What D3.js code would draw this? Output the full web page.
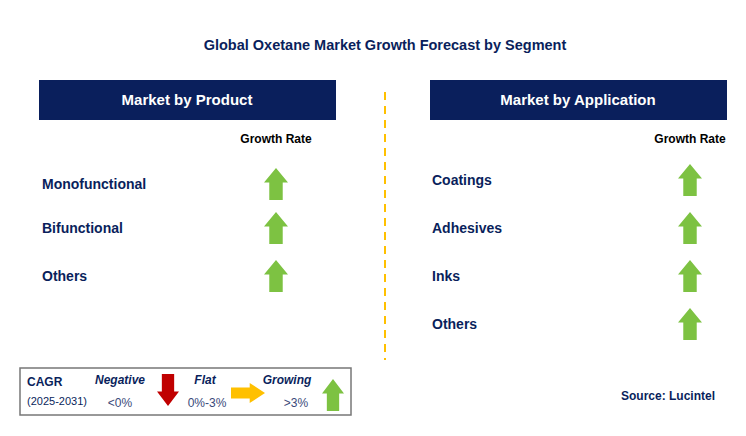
<!DOCTYPE html>
<html><head><meta charset="utf-8">
<script src="https://cdn.jsdelivr.net/npm/d3@7"></script>
<style>body{margin:0;background:#fff}text{font-family:Arial,"Liberation Sans",sans-serif}</style>
</head><body><svg id="c" width="746" height="436"></svg>
<script>
var productSegments = ['Monofunctional', 'Bifunctional', 'Others'];
var productTrend = ['growing', 'growing', 'growing'];
var applicationSegments = ['Coatings', 'Adhesives', 'Inks', 'Others'];
var applicationTrend = ['growing', 'growing', 'growing', 'growing'];

var svg = d3.select('#c');
var navy = '#0a1f5c', green = '#7dc242', red = '#c00000', amber = '#ffc000';

svg.append('text').attr('x', 385).attr('y', 50).attr('text-anchor', 'middle')
  .attr('font-size', 14.5).attr('font-weight', 'bold').attr('fill', navy)
  .text('Global Oxetane Market Growth Forecast by Segment');

// row positions from a point scale
var y = d3.scalePoint().domain(d3.range(4)).range([180, 324]);

// arrow path centred on (0,0), pointing up
function upArrow(w, h) {
  var s = w * 0.28, hh = h * 0.45;
  return 'M0,' + (-h/2) + 'L' + (w/2) + ',' + (-h/2 + hh) + 'L' + s + ',' + (-h/2 + hh) +
    'L' + s + ',' + (h/2) + 'L' + (-s) + ',' + (h/2) + 'L' + (-s) + ',' + (-h/2 + hh) +
    'L' + (-w/2) + ',' + (-h/2 + hh) + 'Z';
}

function panel(x0, title, labelX, arrowX, names, trend, yoff) {
  svg.append('rect').attr('x', x0).attr('y', 80).attr('width', 297).attr('height', 40).attr('fill', navy);
  svg.append('text').attr('x', x0 + 148).attr('y', 105).attr('text-anchor', 'middle')
    .attr('fill', '#fff').attr('font-size', 15).attr('font-weight', 'bold').text(title);
  svg.append('text').attr('x', arrowX).attr('y', 143).attr('text-anchor', 'middle')
    .attr('font-size', 12).attr('font-weight', 'bold').attr('fill', '#000').text('Growth Rate');
  var g = svg.append('g').selectAll('g').data(names).join('g')
    .attr('transform', function(d, i) { return 'translate(0,' + (y(i) + (i === 0 ? yoff : 0)) + ')'; });
  g.append('text').attr('x', labelX).attr('y', 5).attr('font-size', 14).attr('font-weight', 'bold')
    .attr('fill', navy).text(function(d) { return d; });
  g.append('path').attr('transform', 'translate(' + arrowX + ',0)')
    .attr('d', upArrow(24, 32)).attr('fill', function(d, i) { return trend[i] === 'growing' ? green : red; });
}
panel(39, 'Market by Product', 42, 276, productSegments, productTrend, 4);
panel(430, 'Market by Application', 432, 690, applicationSegments, applicationTrend, 0);

svg.append('line').attr('x1', 385).attr('x2', 385).attr('y1', 92).attr('y2', 360)
  .attr('stroke', amber).attr('stroke-width', 2).attr('stroke-dasharray', '8,6');

// legend
var lg = svg.append('g');
lg.append('rect').attr('x', 20).attr('y', 368).attr('width', 331).attr('height', 47)
  .attr('fill', '#fff').attr('stroke', '#777').attr('stroke-width', 1.5);
lg.append('text').attr('x', 27).attr('y', 386).attr('font-size', 12).attr('font-weight', 'bold').attr('fill', navy).text('CAGR');
lg.append('text').attr('x', 27).attr('y', 405).attr('font-size', 11).attr('fill', navy).text('(2025-2031)');
var legendLabels = [['Negative', 120, '<0%', 120], ['Flat', 205, '0%-3%', 207], ['Growing', 287, '>3%', 296]];
legendLabels.forEach(function(l) {
  lg.append('text').attr('x', l[1]).attr('y', 384).attr('text-anchor', 'middle').attr('font-size', 12)
    .attr('font-weight', 'bold').attr('font-style', 'italic').attr('fill', navy).text(l[0]);
  lg.append('text').attr('x', l[3]).attr('y', 407).attr('text-anchor', 'middle').attr('font-size', 12)
    .attr('fill', '#3a4a7a').text(l[2]);
});
lg.append('path').attr('transform', 'translate(168,390) rotate(180)').attr('d', upArrow(22, 32)).attr('fill', red);
lg.append('path').attr('transform', 'translate(248,393) rotate(90)').attr('d', upArrow(20, 34)).attr('fill', amber);
lg.append('path').attr('transform', 'translate(333,395)').attr('d', upArrow(22, 32)).attr('fill', green);

svg.append('text').attr('x', 715).attr('y', 400).attr('text-anchor', 'end').attr('font-size', 12)
  .attr('font-weight', 'bold').attr('fill', navy).text('Source: Lucintel');
</script></body></html>
